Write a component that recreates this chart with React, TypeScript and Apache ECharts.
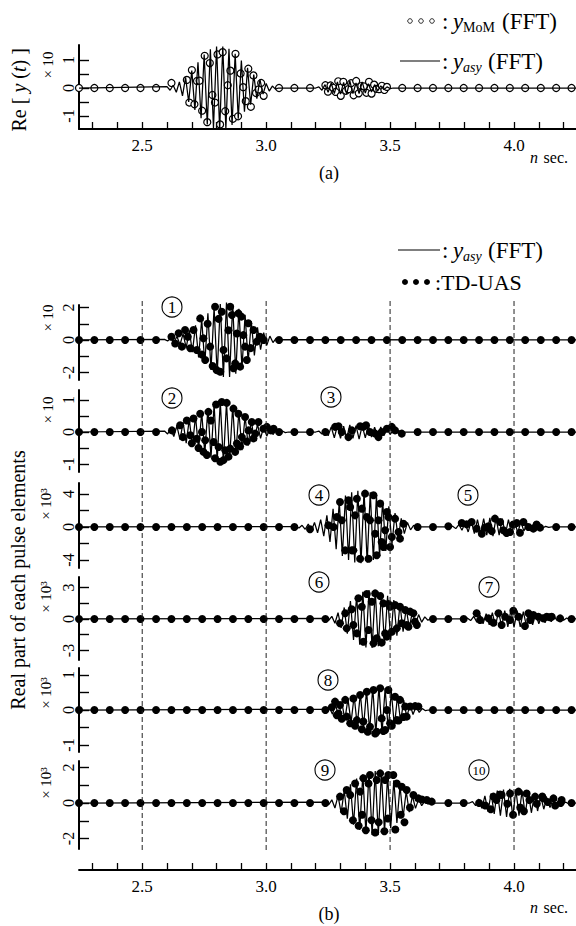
import React, { useEffect, useRef } from "react";
import * as echarts from "echarts";

const SERIF = "Liberation Serif";

// ---------- shared axis data ----------
const X_MIN = 2.245;
const X_MAX = 4.25;
const LINE_STEP = 0.0125;
const FINE_STEP = 0.01035;
const X_TICKS = [2.3, 2.4, 2.5, 2.6, 2.7, 2.8, 2.9, 3.0, 3.1, 3.2, 3.3, 3.4, 3.5, 3.6, 3.7, 3.8, 3.9, 4.0, 4.1, 4.2];
const X_LABELS = [2.5, 3.0, 3.5, 4.0];
const DASH_X = [2.5, 3.0, 3.5, 4.0];
const QUIET_TIMES = [2.245, 2.307, 2.369, 2.431, 2.493, 2.556, 2.618, 2.68, 2.742, 2.804, 2.866, 2.928, 2.99, 3.052, 3.114, 3.177, 3.239, 3.301, 3.363, 3.425, 3.487, 3.549, 3.611, 3.673, 3.735, 3.797, 3.859, 3.921, 3.983, 4.045, 4.108, 4.17, 4.232];

type Seg = { t0: number; v: number[] };

// ---------- (a) y_MoM / y_asy ----------
const TOP_TICKS = [-1, -0.5, 0, 0.5, 1];
const TOP_LABELS = [-1, 0, 1];
const TOP_LINE: Seg[] = [
  { t0: 2.6, v: [0.05, -0.08, 0.1, -0.15, 0.22, -0.28, 0.38, -0.5, 0.62, -0.78, 0.92, -1.08, 1.2, -1.3, 1.38, -1.44, 1.48, -1.5, 1.48, -1.45, 1.4, -1.32, 1.22, -1.1, 0.98, -0.85, 0.72, -0.6, 0.48, -0.38, 0.3, -0.22, 0.16, -0.11, 0.07, -0.04, 0] },
  { t0: 3.2, v: [0, 0.04, -0.08, 0.12, -0.15, 0.18, -0.2, 0.22, -0.22, 0.2, -0.22, 0.25, -0.2, 0.18, -0.2, 0.22, -0.18, 0.15, -0.14, 0.12, -0.1, 0.08, -0.06, 0.04, -0.02, 0] },
];
const TOP_COARSE = [0, 0, 0, 0, 0, 0, 0.18, 0.29, null, null, null, null, -0.28, 0, 0, 0, null, null, null, null, null, 0, 0, 0, 0, 0, 0, 0, 0, 0, 0, 0, 0];
const TOP_FINE: Seg[] = [
  { t0: 2.69, v: [-0.52, 0.64, -0.58, 0.25, 0.26, -0.81, 1.15, -1.22, 0.89, -0.25, -0.52, 1.2, -1.3, 1.28, -0.83, 0.1, 0.62, -1.1, 1.22, -1.01, 0.52, 0.03, -0.47, 0.69, -0.67, 0.45, -0.18, -0.05, 0.18] },
  { t0: 3.239, v: [0.1, -0.13, 0.09, 0.01, -0.14, 0.24, -0.28, 0.22, -0.1, -0.04, 0.17, -0.26, 0.25, -0.19, 0.07, 0.06, -0.17, 0.22, -0.2, 0.12, -0.03, -0.04, 0.08, -0.07, 0.04] },
];

// ---------- (b) panel 1 : pulse 1 ----------
const P1_TICKS = [-2, -1, 0, 1, 2];
const P1_LABELS = [-2, 0, 2];
const P1_LINE: Seg[] = [
  { t0: 2.59, v: [0.04, -0.06, 0.1, -0.15, 0.22, -0.28, 0.38, -0.48, 0.6, -0.75, 0.9, -1.08, 1.28, -1.48, 1.65, -1.85, 2.0, -2.12, 2.22, -2.28, 2.3, -2.28, 2.2, -2.08, 1.92, -1.75, 1.55, -1.35, 1.15, -0.95, 0.78, -0.6, 0.45, -0.33, 0.24, -0.16, 0.1, -0.05, 0.02] },
];
const P1_COARSE = [0, 0, 0, 0, 0, 0, 0.2, null, null, null, null, null, 0, 0, 0, 0, 0, 0, 0, 0, 0, 0, 0, 0, 0, 0, 0, 0, 0, 0, 0, 0, 0];
const P1_FINE = [[2.633, -0.22], [2.647, 0.41], [2.66, -0.41], [2.673, 0.62], [2.684, 0.2], [2.694, -0.51], [2.707, 0.62], [2.72, -0.62], [2.734, 1.33], [2.741, -0.9], [2.747, 0.1], [2.754, -1.23], [2.764, 1.0], [2.774, -0.41], [2.784, -1.6], [2.794, 2.05], [2.8, -1.85], [2.808, 1.3], [2.815, -1.95], [2.821, 1.74], [2.828, -0.62], [2.84, -1.13], [2.848, 0.6], [2.855, 2.05], [2.862, 1.54], [2.868, -1.74], [2.875, -1.44], [2.882, 0.4], [2.888, 1.64], [2.895, -1.64], [2.9, 1.44], [2.908, 0.3], [2.915, -0.41], [2.922, -1.23], [2.928, 1.03], [2.938, -0.5], [2.949, 0.62], [2.962, -0.1], [2.975, 0.2]];

// ---------- panel 2 : pulses 2, 3 ----------
const P2_TICKS = [-1, -0.5, 0, 0.5, 1];
const P2_LABELS = [-1, 0, 1];
const P2_LINE: Seg[] = [
  { t0: 2.59, v: [0.03, -0.06, 0.1, -0.14, 0.19, -0.24, 0.3, -0.35, 0.4, -0.45, 0.5, -0.56, 0.62, -0.68, 0.74, -0.8, 0.86, -0.9, 0.95, -0.95, 0.92, -0.86, 0.8, -0.72, 0.65, -0.57, 0.5, -0.43, 0.37, -0.3, 0.25, -0.2, 0.16, -0.13, 0.1, -0.08, 0.06, -0.04, 0.03, -0.02, 0] },
  { t0: 3.2, v: [0, 0.03, -0.06, 0.1, -0.12, 0.16, -0.18, 0.2, -0.2, 0.18, -0.2, 0.22, -0.2, 0.2, -0.22, 0.2, -0.18, 0.2, -0.16, 0.15, -0.15, 0.16, -0.12, 0.1, -0.08, 0.06, -0.05, 0.04, -0.02, 0] },
];
const P2_COARSE = [0, 0, 0, 0, 0, 0, null, null, null, null, null, null, null, 0, 0, 0, 0, null, null, null, null, null, 0, 0, 0, 0, 0, 0, 0, 0, 0, 0, 0];
const P2_FINE = [[2.62, 0.05], [2.653, 0.21], [2.664, -0.16], [2.68, 0.36], [2.694, -0.1], [2.7, -0.35], [2.707, 0.42], [2.72, -0.21], [2.727, -0.5], [2.734, 0.57], [2.741, 0], [2.747, -0.62], [2.754, -0.26], [2.761, -0.72], [2.767, 0.63], [2.777, 0.36], [2.788, -0.31], [2.794, -0.82], [2.798, 0.86], [2.808, -0.47], [2.815, -0.93], [2.821, 0.94], [2.828, -0.88], [2.835, -0.57], [2.841, 0.91], [2.848, -0.77], [2.855, -0.52], [2.868, 0.73], [2.875, -0.62], [2.882, -0.36], [2.888, 0.57], [2.895, -0.45], [2.902, -0.16], [2.915, 0.47], [2.922, -0.3], [2.929, 0.05], [2.942, 0.31], [2.949, -0.2], [2.956, -0.05], [2.969, 0.31], [2.989, 0.1], [3.003, 0.16], [3.019, 0.05], [3.03, 0.1],
  [3.278, 0.16], [3.292, 0.18], [3.305, 0], [3.332, -0.16], [3.346, 0.05], [3.379, 0.18], [3.392, 0.16], [3.403, 0.21], [3.419, 0], [3.44, -0.05], [3.453, -0.16], [3.466, 0], [3.487, 0.1], [3.507, 0.16], [3.52, 0.05], [3.547, -0.05]];

// ---------- panel 3 : pulses 4, 5 (x10^3) ----------
const P3_TICKS = [-4, -2, 0, 2, 4];
const P3_LABELS = [-4, 0, 4];
const P3_LINE: Seg[] = [
  { t0: 3.12, v: [0.05, -0.12, 0.2, -0.28, 0.35, -0.45, 0.55, -0.7, 0.9, -1.1, 1.4, -1.8, 2.2, -2.7, 3.1, -3.5, 3.8, -4.0, 4.2, -4.3, 4.4, -4.4, 4.4, -4.3, 4.2, -4.0, 3.8, -3.5, 3.2, -2.9, 2.5, -2.1, 1.7, -1.35, 1.05, -0.8, 0.55, -0.35, 0.2, -0.1, 0] },
  { t0: 3.74, v: [0, 0.1, -0.2, 0.3, -0.4, 0.5, -0.6, 0.7, -0.8, 0.9, -0.9, 1.0, -1.0, 1.1, -1.1, 1.1, -1.0, 1.0, -0.9, 0.9, -0.8, 0.7, -0.7, 0.6, -0.5, 0.45, -0.4, 0.3, -0.25, 0.2, -0.12, 0.08, -0.04, 0] },
];
const P3_COARSE = [0, 0, 0, 0, 0, 0, 0, 0, 0, 0, 0, 0, 0, 0, 0, -0.28, null, null, null, null, null, null, 0, 0, 0.08, null, null, null, null, null, null, 0, 0];
const P3_FINE = [[3.251, 0.2], [3.272, 0], [3.285, 1.21], [3.298, 3.03], [3.305, 0.81], [3.319, -2.83], [3.332, 3.23], [3.339, 2.42], [3.345, -2.83], [3.352, -2.83], [3.359, 1.41], [3.366, 3.43], [3.379, -3.84], [3.386, 2.22], [3.399, 4.04], [3.406, 1.21], [3.413, -3.84], [3.419, 0.81], [3.433, 3.84], [3.44, -0.81], [3.446, -3.43], [3.453, 0.81], [3.46, 2.83], [3.466, -1.82], [3.473, -2.42], [3.48, -0.4], [3.487, 1.82], [3.493, 1.21], [3.5, -2.42], [3.507, -1.21], [3.52, 1.01], [3.534, -0.61], [3.54, -1.41], [3.554, 0.4],
  [3.789, 0.48], [3.809, 0.32], [3.829, 0.61], [3.849, -0.2], [3.87, -0.81], [3.883, -0.08], [3.897, 0.08], [3.91, -0.5], [3.923, 1.01], [3.944, 0.61], [3.957, -0.4], [3.97, -0.73], [3.984, -0.61], [3.997, 0.3], [4.011, 0.48], [4.024, -0.7], [4.038, 0.61], [4.058, 0], [4.078, -0.2], [4.091, 0.3], [4.105, -0.08]];

// ---------- panel 4 : pulses 6, 7 (x10^3) ----------
const P4_TICKS = [-3, -1.5, 0, 1.5, 3];
const P4_LABELS = [-3, 0, 3];
const P4_LINE: Seg[] = [
  { t0: 3.24, v: [0.05, -0.12, 0.25, -0.4, 0.6, -0.85, 1.1, -1.4, 1.7, -2.0, 2.25, -2.45, 2.6, -2.7, 2.75, -2.75, 2.7, -2.6, 2.5, -2.35, 2.2, -2.0, 1.8, -1.6, 1.4, -1.2, 1.0, -0.85, 0.7, -0.55, 0.42, -0.3, 0.2, -0.12, 0.06, 0] },
  { t0: 3.8, v: [0, 0.08, -0.15, 0.25, -0.3, 0.4, -0.45, 0.5, -0.55, 0.6, -0.65, 0.7, -0.7, 0.8, -0.75, 0.85, -0.8, 0.8, -0.75, 0.7, -0.65, 0.6, -0.55, 0.5, -0.45, 0.4, -0.35, 0.3, -0.25, 0.22, -0.18, 0.15, -0.12, 0.1, -0.08, 0.05] },
];
const P4_COARSE = [0, 0, 0, 0, 0, 0, 0, 0, 0, 0, 0, 0, 0, 0, 0, 0, 0, null, null, null, null, null, null, 0, 0, 0, null, null, null, null, null, null, 0];
const P4_FINE = [[3.298, -0.41], [3.319, 0.54], [3.325, -0.89], [3.345, 0.92], [3.352, -0.57], [3.366, -1.37], [3.372, 1.97], [3.386, 1.17], [3.392, -2.16], [3.406, 2.38], [3.413, -1.05], [3.426, 1.65], [3.433, -2.32], [3.44, 2.44], [3.446, -1.84], [3.46, 2.19], [3.466, -2.25], [3.473, 1.49], [3.48, -1.37], [3.487, -1.68], [3.493, 1.43], [3.5, 1.17], [3.507, -1.21], [3.52, 1.33], [3.527, -0.89], [3.54, 1.17], [3.547, -0.41], [3.561, 0.86], [3.567, -0.57], [3.574, -0.73], [3.581, 0.7], [3.594, 0.54], [3.6, -0.25], [3.608, -0.57],
  [3.849, 0.54], [3.863, -0.1], [3.897, 0.06], [3.917, -0.35], [3.937, 0.54], [3.95, -0.57], [3.964, 0.22], [3.984, -0.1], [3.997, 0.79], [4.018, 0.22], [4.044, -0.67], [4.058, 0.54], [4.065, -0.1], [4.078, 0.38], [4.098, 0.22], [4.118, 0.06], [4.132, 0.22], [4.145, 0.16], [4.152, 0.22], [4.186, 0.06]];

// ---------- panel 5 : pulse 8 (x10^3) ----------
const P5_TICKS = [-1, -0.5, 0, 0.5, 1];
const P5_LABELS = [-1, 0, 1];
const P5_LINE: Seg[] = [
  { t0: 3.23, v: [0.02, -0.05, 0.08, -0.12, 0.16, -0.2, 0.24, -0.28, 0.32, -0.36, 0.4, -0.44, 0.48, -0.52, 0.56, -0.6, 0.64, -0.67, 0.68, -0.66, 0.62, -0.57, 0.52, -0.46, 0.4, -0.34, 0.28, -0.22, 0.17, -0.13, 0.1, -0.07, 0.04, -0.02, 0] },
];
const P5_COARSE = [0, 0, 0, 0, 0, 0, 0, 0, 0, 0, 0, 0, 0, 0, 0, 0, 0, null, null, null, null, null, null, 0, 0, 0, 0, 0, 0, 0, 0, 0, 0];
const P5_FINE = [[3.265, 0.08], [3.278, 0.24], [3.285, -0.15], [3.292, -0.1], [3.298, 0.14], [3.305, -0.25], [3.319, 0.29], [3.325, -0.19], [3.339, -0.38], [3.352, 0.33], [3.359, -0.45], [3.366, -0.29], [3.379, 0.43], [3.386, -0.55], [3.392, -0.33], [3.406, 0.52], [3.41, -0.62], [3.419, -0.48], [3.433, 0.57], [3.44, -0.67], [3.446, -0.62], [3.46, 0.62], [3.466, -0.24], [3.473, -0.6], [3.48, -0.57], [3.487, 0], [3.493, 0.57], [3.5, -0.38], [3.507, -0.45], [3.52, 0.38], [3.527, -0.29], [3.534, -0.3], [3.54, 0.29], [3.554, -0.2], [3.561, 0.1], [3.567, -0.19], [3.581, 0.1], [3.601, 0.11], [3.614, 0.1]];

// ---------- panel 6 : pulses 9, 10 (x10^3) ----------
const P6_TICKS = [-2, -1, 0, 1, 2];
const P6_LABELS = [-2, 0, 2];
const P6_LINE: Seg[] = [
  { t0: 3.24, v: [0.05, -0.1, 0.18, -0.28, 0.4, -0.55, 0.7, -0.88, 1.05, -1.22, 1.38, -1.52, 1.62, -1.7, 1.76, -1.8, 1.8, -1.78, 1.72, -1.64, 1.54, -1.42, 1.28, -1.12, 0.96, -0.8, 0.66, -0.52, 0.4, -0.3, 0.22, -0.15, 0.1, -0.06, 0.03, 0] },
  { t0: 3.82, v: [0, 0.08, -0.15, 0.22, -0.3, 0.4, -0.48, 0.55, -0.62, 0.7, -0.72, 0.75, -0.78, 0.8, -0.78, 0.75, -0.72, 0.7, -0.65, 0.6, -0.55, 0.5, -0.45, 0.4, -0.35, 0.3, -0.26, 0.22, -0.18, 0.15, -0.1, 0.06, -0.04, 0.02] },
];
const P6_COARSE = [0, 0, 0, 0, 0, 0, 0, 0, 0, 0, 0, 0, 0, 0, 0, 0, 0, null, null, null, null, null, null, null, 0, 0, 0, null, null, null, null, null, 0];
const P6_FINE = [[3.298, 0.36], [3.314, -0.46], [3.325, 0.73], [3.339, 0.45], [3.35, -0.97], [3.359, 1.1], [3.373, -1.28], [3.379, 0.64], [3.387, -0.66], [3.392, 1.39], [3.402, -1.53], [3.413, 1.1], [3.419, 1.58], [3.425, -0.97], [3.44, -1.66], [3.446, 1.3], [3.454, -1.08], [3.46, 1.67], [3.477, -1.59], [3.48, 1.3], [3.491, -0.87], [3.493, 1.58], [3.513, 1.58], [3.521, -1.49], [3.527, 1.1], [3.543, -0.66], [3.547, 0.92], [3.558, -1.08], [3.567, 0.73], [3.58, -0.25], [3.594, 0.45], [3.614, 0.26], [3.628, 0.2], [3.648, 0.17], [3.668, 0.08],
  [3.884, -0.14], [3.906, -0.35], [3.917, 0.36], [3.929, 0.17], [3.944, 0.48], [3.95, 0.45], [3.973, -0.04], [3.984, 0.54], [3.996, -0.66], [4.018, 0.64], [4.025, -0.25], [4.04, -0.46], [4.051, 0.54], [4.062, 0.17], [4.085, 0.36], [4.092, -0.04], [4.114, 0.37], [4.118, 0.26], [4.136, 0.06], [4.159, 0.26], [4.166, -0.14], [4.188, 0], [4.192, 0.17]];

// ---------- helpers ----------
function linePoints(segs: Seg[]): number[][] {
  const pts: number[][] = [[X_MIN, 0]];
  segs.forEach((s) => s.v.forEach((val, i) => pts.push([s.t0 + i * LINE_STEP, val])));
  pts.push([X_MAX, 0]);
  return pts;
}
function dotPoints(coarse: (number | null)[], fine: number[][], fineSegs?: Seg[]): number[][] {
  const pts: number[][] = [];
  coarse.forEach((v, k) => {
    if (v !== null) pts.push([QUIET_TIMES[k], v]);
  });
  fine.forEach((p) => pts.push(p));
  (fineSegs || []).forEach((s) => s.v.forEach((val, i) => pts.push([s.t0 + i * FINE_STEP, val])));
  return pts;
}

type Panel = { top: number; height: number; min: number; max: number; ticks: number[]; labels: number[]; line: number[][]; dots: number[][]; hollow?: boolean };

const PANELS: Panel[] = [
  { top: 45, height: 84, min: -1.464, max: 1.536, ticks: TOP_TICKS, labels: TOP_LABELS, line: linePoints(TOP_LINE), dots: dotPoints(TOP_COARSE, [], TOP_FINE), hollow: true },
  { top: 305, height: 75, min: -2.462, max: 2.154, ticks: P1_TICKS, labels: P1_LABELS, line: linePoints(P1_LINE), dots: dotPoints(P1_COARSE, P1_FINE) },
  { top: 390, height: 82, min: -1.25, max: 1.3125, ticks: P2_TICKS, labels: P2_LABELS, line: linePoints(P2_LINE), dots: dotPoints(P2_COARSE, P2_FINE) },
  { top: 483, height: 85, min: -4.97, max: 5.33, ticks: P3_TICKS, labels: P3_LABELS, line: linePoints(P3_LINE), dots: dotPoints(P3_COARSE, P3_FINE) },
  { top: 577, height: 83, min: -3.905, max: 4.0, ticks: P4_TICKS, labels: P4_LABELS, line: linePoints(P4_LINE), dots: dotPoints(P4_COARSE, P4_FINE) },
  { top: 668, height: 84, min: -1.2, max: 1.2, ticks: P5_TICKS, labels: P5_LABELS, line: linePoints(P5_LINE), dots: dotPoints(P5_COARSE, P5_FINE) },
  { top: 761, height: 88, min: -2.59, max: 2.366, ticks: P6_TICKS, labels: P6_LABELS, line: linePoints(P6_LINE), dots: dotPoints(P6_COARSE, P6_FINE) },
];

const FACTORS = [
  { x: 48, y: 65, t: "× 10" },
  { x: 48, y: 318, t: "× 10" },
  { x: 48, y: 410, t: "× 10" },
  { x: 46, y: 504, t: "× 10³" },
  { x: 46, y: 597, t: "× 10³" },
  { x: 46, y: 693, t: "× 10³" },
  { x: 46, y: 783, t: "× 10³" },
];

const PULSE_TAGS = [
  { x: 172, y: 307, t: "1" },
  { x: 172, y: 398, t: "2" },
  { x: 331, y: 397, t: "3" },
  { x: 319, y: 495, t: "4" },
  { x: 468, y: 495, t: "5" },
  { x: 319, y: 582, t: "6" },
  { x: 489, y: 587, t: "7" },
  { x: 328, y: 680, t: "8" },
  { x: 325, y: 770, t: "9" },
  { x: 479, y: 770, t: "10" },
];

function txt(x: number, y: number, text: string, size: number, opts: any = {}) {
  const align = opts.align || "center";
  const el: any = {
    type: "text",
    x,
    y,
    silent: true,
    style: {
      text,
      fill: "#000000",
      font: `${opts.italic ? "italic " : ""}${size}px "Liberation Serif", serif`,
      align,
      verticalAlign: "middle",
      textAlign: align,
      textVerticalAlign: "middle",
    },
  };
  if (opts.rotation) el.rotation = opts.rotation;
  return el;
}

// legend row: colon, italic y, subscript, (FFT) right-aligned at the given end
function legendRow(y: number, colonX: number, sub: string, subItalic: boolean, endX: number, out: any[]) {
  out.push(txt(colonX, y, ":", 23, { align: "left" }));
  out.push(txt(colonX + 11, y, "y", 23, { align: "left", italic: true }));
  out.push(txt(colonX + 21, y + 6, sub, 14, { align: "left", italic: subItalic }));
  out.push(txt(endX, y, "(FFT)", 23, { align: "right" }));
}

function buildOption(): any {
  const grids: any[] = PANELS.map((p) => ({ left: 79, width: 497, top: p.top, height: p.height, containLabel: false, outerBoundsMode: "none" }));
  grids.push({ left: 79, width: 497, top: 299, height: 551, containLabel: false, outerBoundsMode: "none" });
  grids.push({ left: 79, width: 497, top: 299, height: 571, containLabel: false, outerBoundsMode: "none" });

  const xAxes: any[] = grids.map((_, i) => {
    const visible = i === 0 || i === 8;
    return {
      gridIndex: i,
      type: "value",
      min: X_MIN,
      max: X_MAX,
      show: visible,
      splitLine: { show: false },
      axisLine: { show: visible, onZero: false, lineStyle: { color: "#000", width: 1.8 } },
      axisTick: { show: visible, inside: true, length: 7, customValues: X_TICKS, lineStyle: { color: "#000", width: 1.3 } },
      axisLabel: {
        show: visible,
        customValues: X_LABELS,
        formatter: (v: number) => `{a|${v.toFixed(1)}}`,
        margin: 8,
        fontFamily: SERIF,
        fontSize: 17,
        color: "#000",
        rich: { a: { fontFamily: SERIF, fontSize: 17, color: "#000" } },
      },
    };
  });

  const yAxes: any[] = PANELS.map((p, i) => ({
    gridIndex: i,
    type: "value",
    min: p.min,
    max: p.max,
    splitLine: { show: false },
    axisLine: { show: true, onZero: false, lineStyle: { color: "#000", width: 2 } },
    axisTick: { show: true, inside: true, length: 10, customValues: p.ticks, lineStyle: { color: "#000", width: 1.4 } },
    axisLabel: {
      customValues: p.labels,
      rotate: 90,
      margin: 3,
      fontFamily: SERIF,
      fontSize: 16,
      color: "#000",
      formatter: (v: number) => `{a|${v}}`,
      rich: { a: { fontFamily: SERIF, fontSize: 16, color: "#000" } },
    },
  }));
  yAxes.push({ gridIndex: 7, type: "value", min: 0, max: 1, show: false, splitLine: { show: false } });
  yAxes.push({ gridIndex: 8, type: "value", min: 0, max: 1, show: false, splitLine: { show: false } });

  const series: any[] = [];
  DASH_X.forEach((x) =>
    series.push({
      type: "line",
      xAxisIndex: 7,
      yAxisIndex: 7,
      data: [[x, 0], [x, 1]],
      showSymbol: false,
      silent: true,
      lineStyle: { color: "#222", width: 1, type: [5, 3] },
    })
  );
  PANELS.forEach((p, i) => {
    series.push({
      type: "line",
      xAxisIndex: i,
      yAxisIndex: i,
      data: p.line,
      showSymbol: false,
      clip: false,
      silent: true,
      lineStyle: { color: "#000", width: 1.25 },
    });
    series.push({
      type: "scatter",
      xAxisIndex: i,
      yAxisIndex: i,
      data: p.dots,
      symbol: "circle",
      symbolSize: p.hollow ? 7 : 8,
      clip: false,
      silent: true,
      itemStyle: p.hollow ? { color: "#fff", borderColor: "#000", borderWidth: 1.2, opacity: 1 } : { color: "#000", opacity: 1 },
    });
  });

  const graphic: any[] = [];
  FACTORS.forEach((f) => graphic.push(txt(f.x, f.y, f.t, 15, { rotation: Math.PI / 2 })));
  PULSE_TAGS.forEach((p) => {
    graphic.push({ type: "circle", silent: true, shape: { cx: p.x, cy: p.y, r: 10 }, style: { fill: "none", stroke: "#000", lineWidth: 1.1 } });
    graphic.push(txt(p.x, p.y + 0.5, p.t, p.t.length > 1 ? 13 : 17));
  });

  // "Re [ y (t) ]" as a rotated group of pieces
  graphic.push({
    type: "group",
    x: 19,
    y: 90,
    rotation: Math.PI / 2,
    silent: true,
    children: [
      txt(-41.5, 0, "Re [ ", 20, { align: "left" }),
      txt(-2.6, 0, "y", 20, { align: "left", italic: true }),
      txt(6.3, 0, " (", 20, { align: "left" }),
      txt(18, 0, "t", 20, { align: "left", italic: true }),
      txt(23.6, 0, ") ]", 20, { align: "left" }),
    ],
  });
  graphic.push(txt(18, 580, "Real part of each pulse elements", 20, { rotation: Math.PI / 2 }));
  // "n sec."
  [157, 907].forEach((yy) => {
    graphic.push(txt(530, yy, "n", 16, { align: "left", italic: true }));
    graphic.push(txt(568, yy, "sec.", 16, { align: "right" }));
  });
  graphic.push(txt(329, 173, "(a)", 18));
  graphic.push(txt(329, 914, "(b)", 18));

  // legend (a)
  [410, 421, 432].forEach((cx) =>
    graphic.push({ type: "circle", silent: true, shape: { cx, cy: 21, r: 2.3 }, style: { fill: "#fff", stroke: "#000", lineWidth: 0.8 } })
  );
  legendRow(21, 442, "MoM", false, 557, graphic);
  graphic.push({ type: "line", silent: true, shape: { x1: 400, y1: 61, x2: 440, y2: 61 }, style: { stroke: "#000", lineWidth: 1.2 } });
  legendRow(61, 442, "asy", true, 543, graphic);

  // legend (b)
  graphic.push({ type: "line", silent: true, shape: { x1: 398, y1: 250, x2: 440, y2: 250 }, style: { stroke: "#000", lineWidth: 1.2 } });
  legendRow(250, 442, "asy", true, 543, graphic);
  [405, 416, 427].forEach((cx) =>
    graphic.push({ type: "circle", silent: true, shape: { cx, cy: 282, r: 3 }, style: { fill: "#000" } })
  );
  graphic.push(txt(435, 282, ":TD-UAS", 22, { align: "left" }));

  return {
    animation: false,
    backgroundColor: "#fff",
    textStyle: { fontFamily: SERIF, color: "#000" },
    grid: grids,
    xAxis: xAxes,
    yAxis: yAxes,
    series,
    graphic,
  };
}

export default function App() {
  const ref = useRef<HTMLDivElement>(null);
  useEffect(() => {
    document.body.style.margin = "0";
    const chart = echarts.init(ref.current as HTMLDivElement, null, { renderer: "svg" });
    chart.setOption(buildOption());
    return () => chart.dispose();
  }, []);
  return <div ref={ref} style={{ position: "absolute", left: 0, top: 0, width: 576, height: 926, background: "#fff" }} />;
}
